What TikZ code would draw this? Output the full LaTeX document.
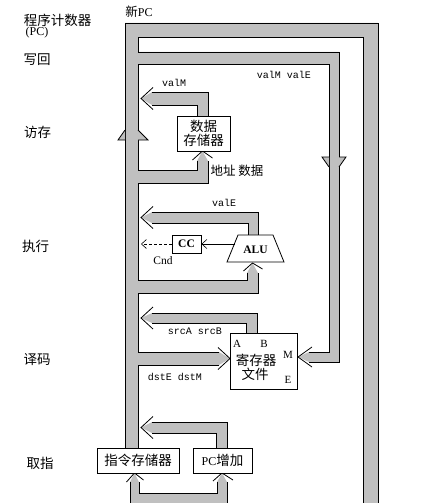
\documentclass[tikz,border=0pt]{standalone}
\usepackage{fontspec}
\setmainfont{Liberation Serif}
\setmonofont{Liberation Mono}
\newfontfamily\cjk{Noto Sans CJK SC}
\usetikzlibrary{arrows.meta}
\definecolor{busgray}{RGB}{192,192,192}
\begin{document}
\begin{tikzpicture}[x=1pt,y=-1pt,
  busfill/.style={fill=busgray,draw=none},
  busline/.style={draw=black,line width=0.8pt},
  box/.style={draw,fill=white,line width=0.8pt,inner sep=0pt,align=center},
  cn/.style={font=\cjk\fontsize{13.5}{13.5}\selectfont,inner sep=0pt},
  mono/.style={font=\ttfamily\fontsize{10}{12}\selectfont,inner sep=0pt},
  serif/.style={font=\fontsize{11}{12}\selectfont,inner sep=0pt},
  reglet/.style={font=\fontsize{11}{12}\selectfont,inner sep=0pt},
  barb/.style={-{Straight Barb[length=5pt,width=9pt]},line width=0.6pt}]
\useasboundingbox (0,0) rectangle (422,503);
\clip (0,0) rectangle (422,503);

% ---- arrow tips (named coordinates) ----
\coordinate (tipWB) at (298,357);
\coordinate (tipValM) at (141,98.5);
\coordinate (tipMem) at (202.5,151);
\coordinate (tipValE) at (141,217.5);
\coordinate (tipALU) at (252.5,263);
\coordinate (tipSrc) at (141,318);
\coordinate (tipDst) at (230,358.5);
\coordinate (tipPC) at (141,427.5);
\coordinate (tipIM) at (134.5,473);
\coordinate (tipPCI) at (222,473);

% ---- gray bus fills ----
\path[busfill] (125,448) -- (125,23) -- (378,23) -- (378,505) -- (363,505) -- (363,37) -- (138,37) -- (138,448) -- cycle;
\path[busfill] (137,52) -- (339,52) -- (339,362) -- (309,362) -- (tipWB) -- (309,352) -- (329,352) -- (329,64) -- (137,64) -- cycle;
\path[busfill] (208,117) -- (208,92) -- (152,92) -- (tipValM) -- (152,105) -- (197,105) -- (197,117) -- cycle;
\path[busfill] (137,170) -- (197,170) -- (197,161) -- (tipMem) -- (208,161) -- (208,183) -- (137,183) -- cycle;
\path[busfill] (258,236) -- (258,212) -- (152,212) -- (tipValE) -- (152,223) -- (248,223) -- (248,236) -- cycle;
\path[busfill] (137,280) -- (247,280) -- (247,273) -- (tipALU) -- (258,273) -- (258,293) -- (137,293) -- cycle;
\path[busfill] (257,334) -- (257,313) -- (152,313) -- (tipSrc) -- (152,323) -- (246,323) -- (246,334) -- cycle;
\path[busfill] (137,352) -- (219,352) -- (tipDst) -- (219,365) -- (137,365) -- cycle;
\path[busfill] (227,449) -- (227,422) -- (152,422) -- (tipPC) -- (152,433) -- (216,433) -- (216,449) -- cycle;
\path[busfill] (130,505) -- (130,482) -- (tipIM) -- (139,482) -- (139,493) -- (217,493) -- (217,482) -- (tipPCI) -- (227,482) -- (227,505) -- cycle;

% ---- bus outlines ----
\draw[busline] (125,448) -- (125,23) -- (378,23) -- (378,505);
\draw[busline] (363,505) -- (363,37) -- (138,37) -- (138,52) -- (339,52) -- (339,362) -- (309,362);
\draw[busline] (309,352) -- (329,352) -- (329,64) -- (138,64) -- (138,170) -- (197,170) -- (197,161);
\draw[busline] (208,161) -- (208,183) -- (138,183) -- (138,280) -- (247,280) -- (247,273);
\draw[busline] (258,273) -- (258,293) -- (138,293) -- (138,352) -- (219,352);
\draw[busline] (219,365) -- (138,365) -- (138,448);
\draw[busline] (208,117) -- (208,92) -- (152,92);
\draw[busline] (152,105) -- (197,105) -- (197,117);
\draw[busline] (258,236) -- (258,212) -- (152,212);
\draw[busline] (152,223) -- (248,223) -- (248,236);
\draw[busline] (257,334) -- (257,313) -- (152,313);
\draw[busline] (152,323) -- (246,323) -- (246,334);
\draw[busline] (227,449) -- (227,422) -- (152,422);
\draw[busline] (152,433) -- (216,433) -- (216,449);
\draw[busline] (130,505) -- (130,482);
\draw[busline] (139,482) -- (139,493) -- (217,493) -- (217,482);
\draw[busline] (227,482) -- (227,505);

% ---- arrow wings ----
\draw[busline] (tipWB) ++(14,-10) -- (tipWB) -- ++(14,10);
\draw[busline] (tipValM) ++(12,-11) -- (tipValM) -- ++(12,11);
\draw[busline] (tipMem) ++(-10,9) -- (tipMem) -- ++(10,7);
\draw[busline] (tipValE) ++(12,-11) -- (tipValE) -- ++(12,11);
\draw[busline] (tipALU) ++(-9,8) -- (tipALU) -- ++(10,6);
\draw[busline] (tipSrc) ++(12,-11) -- (tipSrc) -- ++(12,11);
\draw[busline] (tipDst) ++(-12,-11) -- (tipDst) -- ++(-12,11);
\draw[busline] (tipPC) ++(12,-11) -- (tipPC) -- ++(12,11);
\draw[busline] (tipIM) ++(-8,9) -- (tipIM) -- ++(9,7);
\draw[busline] (tipPCI) ++(-9,8) -- (tipPCI) -- ++(11,7);

% ---- mid-bus arrowheads ----
\filldraw[fill=busgray,busline] (125,130) -- (118,140) -- (125,140);
\filldraw[fill=busgray,busline] (138,130) -- (148,140) -- (138,140);
\filldraw[fill=busgray,busline] (329,167) -- (322,157) -- (329,157);
\filldraw[fill=busgray,busline] (339,167) -- (346,157) -- (339,157);

% ---- boxes ----
\node[box,cn,minimum width=53pt,minimum height=35pt] (dmem) at (203.5,133.5) {数据\\存储器};
\draw[fill=white,line width=0.8pt] (238,235) -- (273,235) -- (284,262) -- (227,262) -- cycle;
\node[serif,font=\bfseries\fontsize{11.5}{12}\selectfont] (alu) at (255.5,250) {ALU};
\coordinate (aluL) at (234.7,244);
\node[box,serif,font=\bfseries\fontsize{11.5}{12}\selectfont,minimum width=29pt,minimum height=18pt] (cc) at (186.5,244) {CC};
\coordinate (cndEnd) at (141,244);
\draw[barb] (aluL) -- (cc.east);
\draw[barb,dashed,dash pattern=on 3pt off 2pt] (cc.west) -- (cndEnd);
\node[box,minimum width=67pt,minimum height=56pt] (reg) at (263.5,361) {};
\node[cn] at (256,360) {寄存器};
\node[cn] at (255,374) {文件};
\node[reglet] at (237,344) {A};
\node[reglet] at (264,344) {B};
\node[reglet] at (288,355) {M};
\node[reglet] at (288,380) {E};
\node[box,cn,minimum width=82pt,minimum height=25pt] (imem) at (138,460.5) {指令存储器};
\node[box,minimum width=59pt,minimum height=25pt] (pcinc) at (222.5,460.5) {\fontsize{12}{13}\selectfont PC{\cjk\fontsize{13.5}{14}\selectfont 增加}};

% ---- labels ----
\node[mono] at (174,83) {valM};
\node[mono] at (284,75) {valM valE};
\node[cn,font=\cjk\fontsize{12.5}{13}\selectfont] at (237,171) {地址 数据};
\node[mono] at (224,203) {valE};
\node[serif,font=\fontsize{11.5}{12}\selectfont] at (163,261) {Cnd};
\node[mono] at (195,331) {srcA srcB};
\node[mono] at (175,377) {dstE dstM};
\node[inner sep=0pt] at (139,12) {{\cjk\fontsize{12.5}{13}\selectfont 新}\fontsize{12}{13}\selectfont PC};

\node[cn] at (57.5,20) {程序计数器};
\node[serif,font=\fontsize{12}{13}\selectfont] at (37,33) {(PC)};
\node[cn] at (37,60) {写回};
\node[cn] at (37.5,132) {访存};
\node[cn] at (35.5,246) {执行};
\node[cn] at (37,360) {译码};
\node[cn] at (40,463) {取指};
\end{tikzpicture}
\end{document}
